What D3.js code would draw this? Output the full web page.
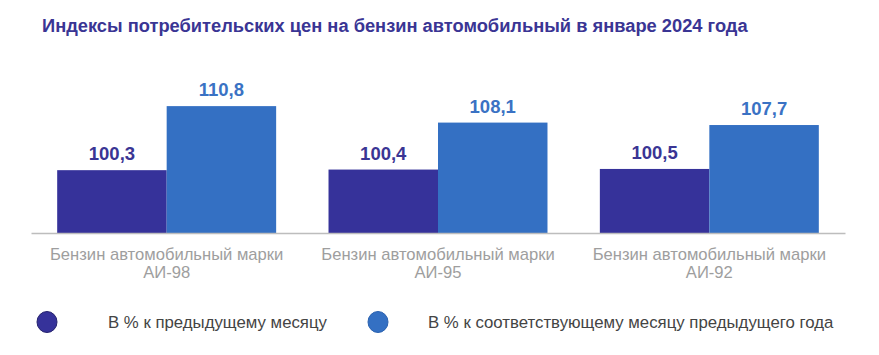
<!DOCTYPE html>
<html><head><meta charset="utf-8">
<script src="https://cdn.jsdelivr.net/npm/d3@7"></script>
<style>body{margin:0;background:#fff}svg{display:block}</style>
</head><body>
<script>
const title = "Индексы потребительских цен на бензин автомобильный в январе 2024 года";
const categories = ["Бензин автомобильный марки|АИ-98", "Бензин автомобильный марки|АИ-95", "Бензин автомобильный марки|АИ-92"];
const seriesNames = ["В % к предыдущему месяцу", "В % к соответствующему месяцу предыдущего года"];
const prevMonth = [100.3, 100.4, 100.5];
const prevYear = [110.8, 108.1, 107.7];
const colors = ["#36329a", "#3470c3"];

const W = 879, H = 355;
const svg = d3.select("body").append("svg").attr("width", W).attr("height", H);

svg.append("text").attr("x", 42).attr("y", 32)
  .attr("font-family", "Liberation Sans, Arial, sans-serif").attr("font-weight", "bold")
  .attr("font-size", 18.3).attr("fill", "#3a3594").text(title);

const x = d3.scaleBand().domain(categories).range([31, 845]).paddingInner(0.193).paddingOuter(0.0965);
const series = [prevMonth, prevYear];
const xs = d3.scaleBand().domain([0, 1]).range([0, x.bandwidth()]).padding(0);
const y = d3.scaleLinear().domain([90, 112]).range([233, 233 - 22 * 6.1]);

const data = [];
categories.forEach((c, i) => series.forEach((s, j) => data.push({c, j, v: s[i]})));

svg.selectAll("rect.bar").data(data).join("rect").attr("class", "bar")
  .attr("x", d => x(d.c) + xs(d.j)).attr("width", xs.bandwidth())
  .attr("y", d => y(d.v)).attr("height", d => y(90) - y(d.v))
  .attr("fill", d => colors[d.j]);

svg.selectAll("text.val").data(data).join("text").attr("class", "val")
  .attr("x", d => x(d.c) + xs(d.j) + xs.bandwidth() / 2).attr("y", d => y(d.v) - 10)
  .attr("text-anchor", "middle").attr("font-family", "Liberation Sans, Arial, sans-serif")
  .attr("font-weight", "bold").attr("font-size", 18.5)
  .attr("fill", d => d.j === 0 ? "#3a3594" : "#3a72c4")
  .text(d => d3.format(".1f")(d.v).replace(".", ","));

const axis = d3.axisBottom(x).tickSize(0).tickFormat("");
const ag = svg.append("g").attr("transform", "translate(0,233)").call(axis);
ag.select(".domain").attr("stroke", "#bdbdbd").attr("stroke-width", 1.5);

const lab = svg.selectAll("text.cat").data(categories).join("text").attr("class", "cat")
  .attr("x", d => x(d) + x.bandwidth() / 2).attr("text-anchor", "middle")
  .attr("font-family", "Liberation Sans, Arial, sans-serif").attr("font-size", 16.6).attr("fill", "#9e9e9e");
lab.each(function(d) {
  const parts = d.split("|");
  d3.select(this).selectAll("tspan").data(parts).join("tspan")
    .attr("x", x(d) + x.bandwidth() / 2).attr("y", (p, k) => 260 + k * 18).text(p => p);
});

const legX = [[47, 108], [378, 428]];
seriesNames.forEach((n, j) => {
  svg.append("ellipse").attr("cx", legX[j][0]).attr("cy", 322).attr("rx", 10).attr("ry", 10.5)
    .attr("fill", colors[j]).attr("stroke", j === 0 ? "#26236e" : "#2b62b0").attr("stroke-width", 1);
  svg.append("text").attr("x", legX[j][1]).attr("y", 328)
    .attr("font-family", "Liberation Sans, Arial, sans-serif")
    .attr("font-size", 16.8).attr("fill", "#444").text(n);
});
</script>
</body></html>
